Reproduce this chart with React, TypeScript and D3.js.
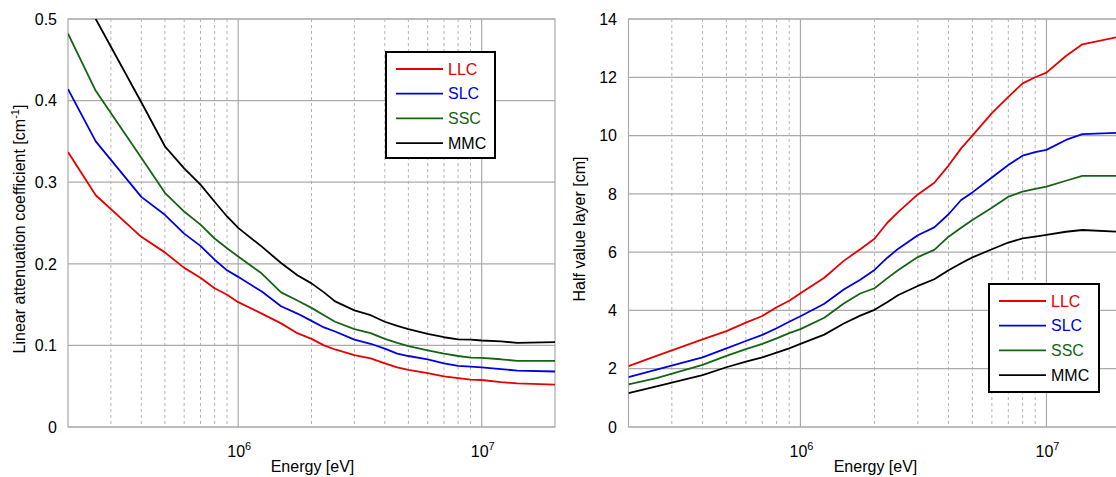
import React from "react";
import * as d3 from "d3";

// energies in eV
const energies = [0.2e6, 0.26e6, 0.4e6, 0.5e6, 0.6e6, 0.7e6, 0.8e6, 0.9e6, 1e6, 1.25e6, 1.5e6, 1.75e6, 2e6, 2.25e6, 2.5e6, 3e6, 3.5e6, 4e6, 4.5e6, 5e6, 6e6, 7e6, 8e6, 9e6, 10e6, 12e6, 14e6, 20e6];

// linear attenuation coefficient [cm^-1]
const muLLC = [0.337, 0.284, 0.233, 0.214, 0.195, 0.183, 0.170, 0.162, 0.153, 0.139, 0.127, 0.115, 0.108, 0.100, 0.095, 0.088, 0.084, 0.078, 0.073, 0.070, 0.066, 0.062, 0.060, 0.058, 0.0576, 0.055, 0.0535, 0.052];
const muSLC = [0.414, 0.350, 0.282, 0.260, 0.237, 0.222, 0.205, 0.192, 0.184, 0.166, 0.148, 0.139, 0.130, 0.122, 0.117, 0.107, 0.102, 0.096, 0.090, 0.087, 0.083, 0.078, 0.075, 0.074, 0.073, 0.071, 0.069, 0.068];
const muSSC = [0.482, 0.412, 0.330, 0.287, 0.264, 0.248, 0.231, 0.219, 0.209, 0.188, 0.165, 0.155, 0.146, 0.137, 0.129, 0.120, 0.115, 0.108, 0.103, 0.099, 0.094, 0.090, 0.087, 0.085, 0.0846, 0.083, 0.081, 0.081];
const muMMC = [0.59, 0.500, 0.398, 0.344, 0.317, 0.297, 0.276, 0.258, 0.244, 0.221, 0.201, 0.186, 0.176, 0.165, 0.154, 0.143, 0.137, 0.129, 0.124, 0.120, 0.114, 0.110, 0.1075, 0.107, 0.106, 0.105, 0.103, 0.104];

// half value layer [cm]
const hvlLLC = [2.09, 2.44, 3.01, 3.29, 3.58, 3.81, 4.11, 4.33, 4.59, 5.12, 5.70, 6.10, 6.46, 7.00, 7.38, 7.98, 8.38, 8.97, 9.56, 10.0, 10.77, 11.33, 11.79, 12.0, 12.16, 12.73, 13.13, 13.4];
const hvlSLC = [1.71, 1.97, 2.39, 2.70, 2.95, 3.16, 3.39, 3.61, 3.80, 4.23, 4.72, 5.05, 5.39, 5.80, 6.12, 6.58, 6.85, 7.30, 7.79, 8.05, 8.56, 8.99, 9.31, 9.43, 9.51, 9.85, 10.05, 10.1];
const hvlSSC = [1.46, 1.68, 2.13, 2.44, 2.67, 2.85, 3.04, 3.22, 3.36, 3.75, 4.24, 4.58, 4.76, 5.10, 5.39, 5.83, 6.08, 6.53, 6.84, 7.10, 7.52, 7.90, 8.08, 8.17, 8.25, 8.45, 8.62, 8.62];
const hvlMMC = [1.16, 1.39, 1.78, 2.05, 2.24, 2.39, 2.55, 2.70, 2.85, 3.17, 3.55, 3.82, 4.02, 4.28, 4.53, 4.84, 5.07, 5.38, 5.62, 5.82, 6.10, 6.33, 6.47, 6.53, 6.59, 6.70, 6.76, 6.70];

const names = ["LLC", "SLC", "SSC", "MMC"];
const colors = ["#e60000", "#0000e0", "#146414", "#000000"];

const muTicks = [0, 0.1, 0.2, 0.3, 0.4, 0.5];
const hvlTicks = [0, 2, 4, 6, 8, 10, 12, 14];
const majorX = [1e6, 1e7];
const minorX = [3e5, 4e5, 5e5, 6e5, 7e5, 8e5, 9e5, 2e6, 3e6, 4e6, 5e6, 6e6, 7e6, 8e6, 9e6];

const FONT = "'Liberation Sans', Arial, sans-serif";
const top = 19;
const bottom = 427;

const Panel = ({ id, left, right, yMax, yTicks, series, legend, yTitle, titleX, tickX, fmt }) => {
    const x = d3.scaleLog().domain([2e5, 2e7]).range([left, right]);
    const y = d3.scaleLinear().domain([0, yMax]).range([bottom, top]);
    const line = d3.line().x((d) => x(d[0])).y((d) => y(d[1]));

    return (
        <g>
            <defs>
                <clipPath id={id}>
                    <rect x={left} y={top} width={right - left} height={bottom - top} />
                </clipPath>
            </defs>
            {minorX.map((t) => (
                <line key={'m' + t} x1={x(t)} x2={x(t)} y1={top} y2={bottom}
                    stroke="#b4b4b4" strokeWidth={1} strokeDasharray="3,3" />
            ))}
            {majorX.map((t) => (
                <line key={'M' + t} x1={x(t)} x2={x(t)} y1={top} y2={bottom} stroke="#aaaaaa" strokeWidth={1.2} />
            ))}
            {yTicks.map((t) => (
                <line key={'y' + t} x1={left} x2={right} y1={y(t)} y2={y(t)} stroke="#aaaaaa" strokeWidth={1.2} />
            ))}
            <rect x={left} y={top} width={right - left} height={bottom - top} fill="none" stroke="#aaaaaa" strokeWidth={1.2} />

            <g clipPath={`url(#${id})`}>
                {series.map((s, i) => (
                    <path key={names[i]} d={line(energies.map((e, j) => [e, s[j]]))}
                        fill="none" stroke={colors[i]} strokeWidth={1.8} strokeLinejoin="round" />
                ))}
            </g>

            {yTicks.map((t) => (
                <text key={'yl' + t} x={tickX} y={y(t)} dy="0.36em" textAnchor="end" fontSize={16} fill="#000">
                    {fmt(t)}
                </text>
            ))}
            {majorX.map((t, i) => (
                <text key={'xl' + t} x={x(t) + 1} y={457} textAnchor="middle" fontSize={16} fill="#000">
                    10<tspan dy={-7} fontSize={11}>{6 + i}</tspan>
                </text>
            ))}
            <text x={(left + right) / 2 + 1} y={472} textAnchor="middle" fontSize={16}>Energy [eV]</text>
            <text transform={`translate(${titleX}, 229) rotate(-90)`} textAnchor="middle" fontSize={16}>
                {yTitle}
            </text>

            <g>
                <rect x={legend.x} y={legend.y} width={legend.w} height={legend.h} fill="#fff" stroke="#000" strokeWidth={2} />
                {names.map((n, i) => {
                    const ly = legend.y + 17 + i * 24.7;
                    return (
                        <g key={'lg' + n}>
                            <line x1={legend.x + 10} x2={legend.x + 57} y1={ly} y2={ly} stroke={colors[i]} strokeWidth={1.8} />
                            <text x={legend.x + 62} y={ly} dy="0.36em" fontSize={16} fill={colors[i]}>{n}</text>
                        </g>
                    );
                })}
            </g>
        </g>
    );
};

export default function App() {
    return (
        <svg width={1116} height={477} style={{ position: 'absolute', left: 0, top: 0, background: '#fff' }} fontFamily={FONT}>
            <Panel
                id="clipLeft"
                left={68}
                right={555}
                yMax={0.5}
                yTicks={muTicks}
                series={[muLLC, muSLC, muSSC, muMMC]}
                legend={{ x: 386, y: 52, w: 109, h: 106 }}
                titleX={25}
                tickX={57}
                fmt={(t) => (t === 0 ? '0' : d3.format('.1f')(t))}
                yTitle={<>Linear attenuation coefficient [cm<tspan dy={-6} fontSize={11}>-1</tspan><tspan dy={6}>]</tspan></>}
            />
            <Panel
                id="clipRight"
                left={628.5}
                right={1120.5}
                yMax={14}
                yTicks={hvlTicks}
                series={[hvlLLC, hvlSLC, hvlSSC, hvlMMC]}
                legend={{ x: 989, y: 284, w: 110, h: 108 }}
                titleX={585}
                tickX={617}
                fmt={(t) => String(t)}
                yTitle={'Half value layer [cm]'}
            />
        </svg>
    );
}
